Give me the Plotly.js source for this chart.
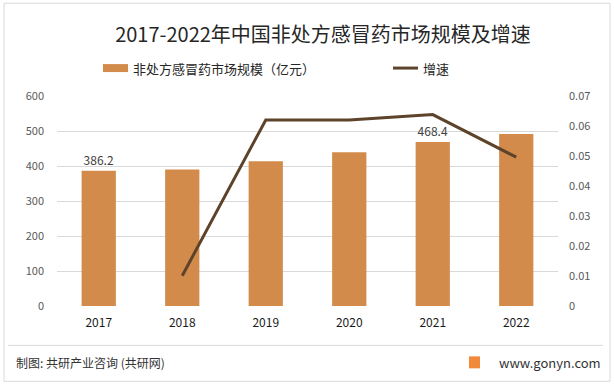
<!DOCTYPE html>
<html>
<head>
<meta charset="utf-8">
<script src="https://cdn.plot.ly/plotly-3.0.1.min.js"></script>
<style>html,body{margin:0;padding:0;background:#fff;}#chart{width:614px;height:386px;}</style>
</head>
<body>
<div id="chart"></div>
<script>
// ---- data ----
const years = ['2017', '2018', '2019', '2020', '2021', '2022'];
const marketSize = [386.2, 390.0, 413.5, 439.5, 468.4, 491.5];
const growthRate = [null, 0.0101, 0.062, 0.062, 0.0638, 0.0496];
const barLabels = ['386.2', '', '', '', '468.4', ''];
const leftTicks = [0, 100, 200, 300, 400, 500, 600];
const rightTicks = [0, 0.01, 0.02, 0.03, 0.04, 0.05, 0.06, 0.07];
const seriesNames = ['非处方感冒药市场规模（亿元）', '增速'];
const titleText = '2017-2022年中国非处方感冒药市场规模及增速';
const footerLeft = '制图: 共研产业咨询 (共研网)';
const footerRight = 'www.gonyn.com';

// ---- geometry helpers (pixel -> paper) ----
const W = 614, H = 386;
const L = 57, R = 558, T = 96, B = 306.5;
const px = x => (x - L) / (R - L);
const py = y => (B - y) / (B - T);

const barColor = '#D38B4C';
const lineColor = '#5E432B';
const font = '"Noto Sans CJK SC", "Noto Sans", sans-serif';

const traces = [
  {
    type: 'bar', x: years, y: marketSize, name: seriesNames[0],
    marker: {color: barColor}, text: barLabels, textposition: 'outside',
    textfont: {size: 12, color: '#404040', family: font}, cliponaxis: false,
    showlegend: false, hoverinfo: 'skip'
  },
  {
    type: 'scatter', mode: 'lines', x: years, y: growthRate, name: seriesNames[1],
    yaxis: 'y2', line: {color: lineColor, width: 3}, connectgaps: false,
    showlegend: false, hoverinfo: 'skip'
  }
];

const layout = {
  width: W, height: H,
  margin: {l: L, r: W - R, t: T, b: H - B},
  paper_bgcolor: '#fff', plot_bgcolor: '#fff',
  font: {family: font, color: '#595959'},
  bargap: 0.59,
  title: {text: titleText, font: {size: 20, color: '#262626', family: font},
          xref: 'paper', x: px(323), xanchor: 'center', yref: 'container', y: 1 - 35 / H, yanchor: 'middle'},
  xaxis: {type: 'category', showgrid: false, showline: false, zeroline: false, ticks: '',
          tickfont: {size: 12, color: '#1a1a1a', family: font}, ticklabelstandoff: 8},
  yaxis: {range: [0, 600], tickvals: leftTicks, showgrid: true, gridcolor: '#D9D9D9', gridwidth: 1,
          zeroline: false, showline: false, ticks: '', tickfont: {size: 11, color: '#595959', family: font},
          ticklabelstandoff: 12},
  yaxis2: {range: [0, 0.07], tickvals: rightTicks, overlaying: 'y', side: 'right', showgrid: false,
           zeroline: false, showline: false, ticks: '', tickfont: {size: 11, color: '#595959', family: font},
           ticklabelstandoff: 10},
  shapes: [
    // outer border
    {type: 'rect', xref: 'paper', yref: 'paper', x0: px(4), x1: px(610), y0: py(382), y1: py(3),
     line: {color: '#D9D9D9', width: 1}, fillcolor: 'rgba(0,0,0,0)', layer: 'below'},
    // legend swatches
    {type: 'rect', xref: 'paper', yref: 'paper', x0: px(103), x1: px(128), y0: py(72), y1: py(64),
     line: {width: 0}, fillcolor: barColor},
    {type: 'line', xref: 'paper', yref: 'paper', x0: px(393), x1: px(418), y0: py(68), y1: py(68),
     line: {color: lineColor, width: 3}},
    // footer separator
    {type: 'line', xref: 'paper', yref: 'paper', x0: px(8), x1: px(603), y0: py(346), y1: py(346),
     line: {color: '#D9D9D9', width: 1}},
    // logo
    {type: 'rect', xref: 'paper', yref: 'paper', x0: px(469), x1: px(480), y0: py(369), y1: py(357),
     line: {width: 0}, fillcolor: '#F08A3A'}
  ],
  annotations: [
    {xref: 'paper', yref: 'paper', x: px(131), y: py(68), xanchor: 'left', yanchor: 'middle',
     text: seriesNames[0], showarrow: false, font: {size: 13, color: '#262626', family: font}},
    {xref: 'paper', yref: 'paper', x: px(421), y: py(68), xanchor: 'left', yanchor: 'middle',
     text: seriesNames[1], showarrow: false, font: {size: 13, color: '#262626', family: font}},
    {xref: 'paper', yref: 'paper', x: px(14), y: py(363), xanchor: 'left', yanchor: 'middle',
     text: footerLeft, showarrow: false, font: {size: 12, color: '#333333', family: font}},
    {xref: 'paper', yref: 'paper', x: px(603), y: py(363), xanchor: 'right', yanchor: 'middle',
     text: footerRight, showarrow: false, font: {size: 13, color: '#333333', family: font}}
  ]
};

Plotly.newPlot('chart', traces, layout, {displayModeBar: false, staticPlot: true});
</script>
</body>
</html>
